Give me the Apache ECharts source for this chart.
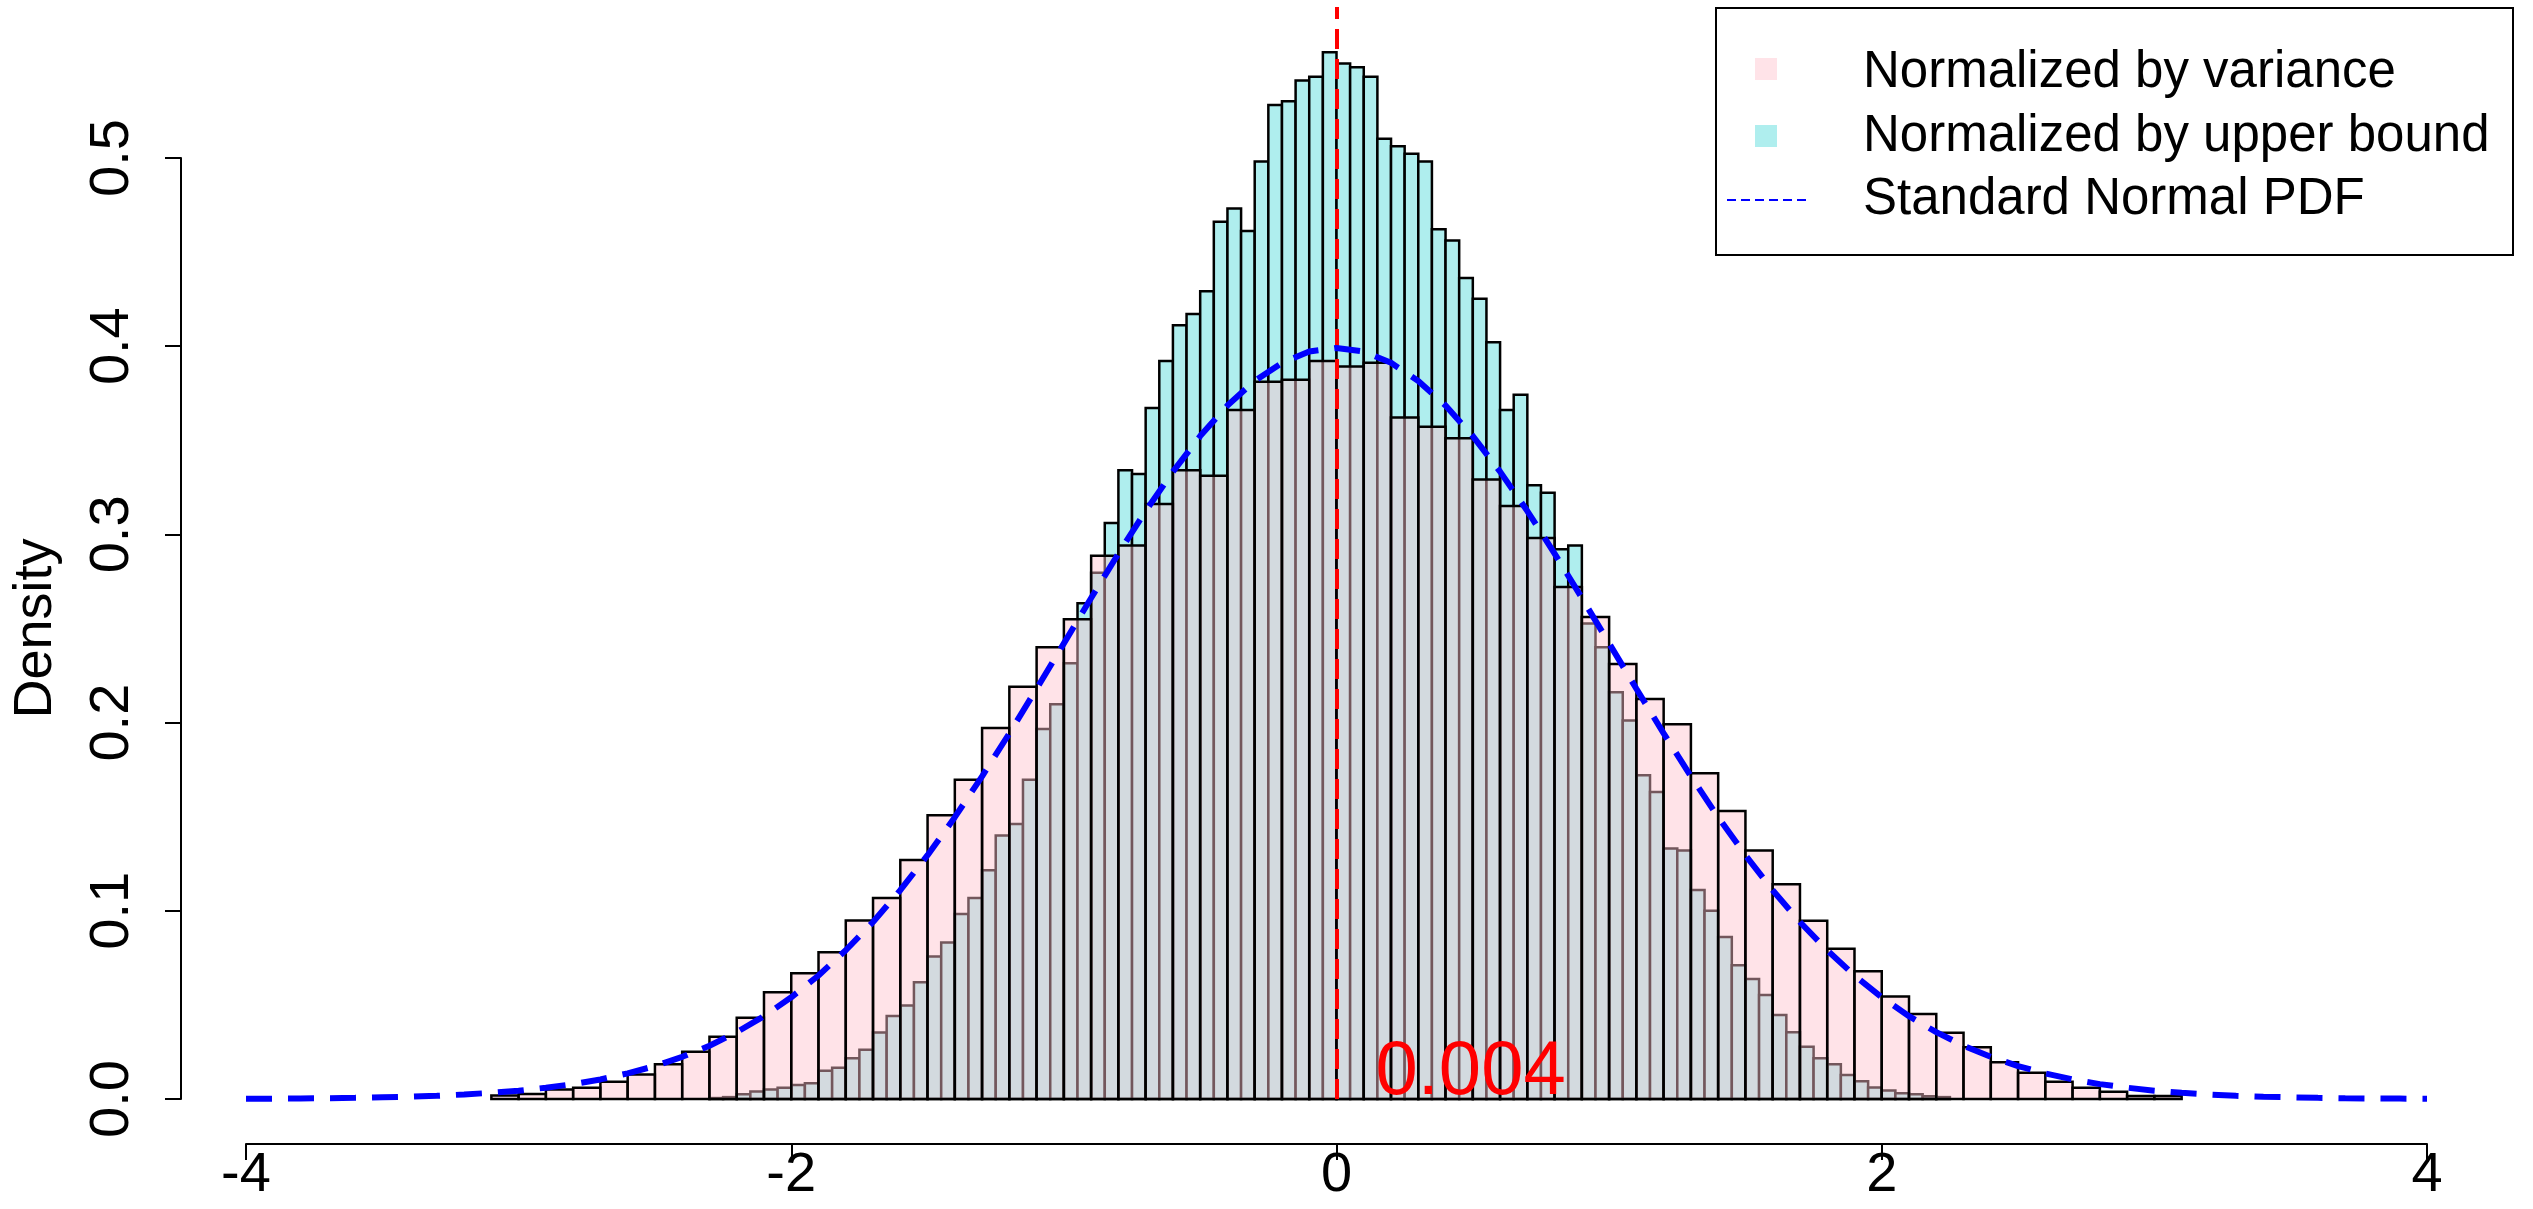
<!DOCTYPE html>
<html><head><meta charset="utf-8">
<script src="https://cdn.jsdelivr.net/npm/echarts@6/dist/echarts.min.js"></script>
<style>html,body{margin:0;padding:0;background:#fff}#c{width:2533px;height:1209px}</style>
</head><body><div id="c"></div>
<script>
// Histogram "Normalized by variance": bins of width 0.1 starting at -3.1
const varianceStart = -3.1;
const varianceWidth = 0.1;
const varianceDensity = [0.0018,0.0027,0.005,0.006,0.0092,0.013,0.0184,0.0251,0.0331,0.0432,
 0.0567,0.0668,0.078,0.0948,0.1067,0.127,0.1507,0.1696,0.197,0.219,
 0.240,0.2548,0.2886,0.294,0.316,0.334,0.331,0.366,0.381,0.382,
 0.392,0.389,0.391,0.362,0.357,0.351,0.329,0.315,0.298,0.272,
 0.256,0.231,0.2125,0.199,0.173,0.153,0.132,0.114,0.0947,0.0798,
 0.0678,0.0545,0.0452,0.0352,0.0275,0.0195,0.014,0.0092,0.006,0.0039,
 0.0016,0.0016];
// Histogram "Normalized by upper bound": bins of width 0.05 starting at -2.30
const upperStart = -2.30;
const upperWidth = 0.05;
const upperDensity = [0.0005,0.001,0.0025,0.004,0.005,0.006,0.0074,0.0083,0.015,0.0166,
 0.0216,0.0262,0.0353,0.0441,0.0496,0.062,0.0757,0.0831,0.0982,0.1067,
 0.1215,0.140,0.146,0.1696,0.1965,0.2097,0.2314,0.2633,0.2795,0.306,
 0.334,0.332,0.367,0.392,0.411,0.417,0.429,0.466,0.473,0.461,
 0.498,0.528,0.530,0.541,0.543,0.556,0.550,0.548,0.543,0.510,
 0.506,0.502,0.498,0.462,0.456,0.436,0.425,0.402,0.366,0.374,
 0.326,0.322,0.292,0.294,0.2525,0.240,0.216,0.201,0.172,0.163,
 0.133,0.132,0.111,0.100,0.086,0.071,0.0637,0.0553,0.0446,0.0354,
 0.0277,0.0217,0.0185,0.0128,0.0094,0.0061,0.0045,0.003,0.0025,0.0015,0.001];
// Standard normal PDF sampled at x = -4.0, -3.9, ..., 4.0
const pdfStart = -4.0;
const pdfStep = 0.1;
const pdfValues = [0.0001,0.0002,0.0003,0.0004,0.0006,0.0009,0.0012,0.0017,0.0024,0.0033,
 0.0044,0.0060,0.0079,0.0104,0.0136,0.0175,0.0224,0.0283,0.0355,0.0440,
 0.0540,0.0656,0.0790,0.0940,0.1109,0.1295,0.1497,0.1714,0.1942,0.2179,
 0.2420,0.2661,0.2897,0.3123,0.3332,0.3521,0.3683,0.3814,0.3910,0.3970,
 0.3989,
 0.3970,0.3910,0.3814,0.3683,0.3521,0.3332,0.3123,0.2897,0.2661,0.2420,
 0.2179,0.1942,0.1714,0.1497,0.1295,0.1109,0.0940,0.0790,0.0656,0.0540,
 0.0440,0.0355,0.0283,0.0224,0.0175,0.0136,0.0104,0.0079,0.0060,0.0044,
 0.0033,0.0024,0.0017,0.0012,0.0009,0.0006,0.0004,0.0003,0.0002,0.0001];
const xTicks = [-4,-2,0,2,4];
const yTicks = [0,0.1,0.2,0.3,0.4,0.5];
const meanValue = 0;
const meanLabel = '0.004';
const legendNames = ['Normalized by variance','Normalized by upper bound','Standard Normal PDF'];

const FONT = 'Liberation Sans, Arial, sans-serif';
const histData = (start, w, arr) => arr.map((v, i) => [+(start + i * w).toFixed(3), v, w]);
function barRender(fill) {
  return function (params, api) {
    const x0 = api.value(0), y = api.value(1), w = api.value(2);
    const p0 = api.coord([x0, y]);
    const p1 = api.coord([x0 + w, 0]);
    return { type: 'rect', shape: { x: p0[0], y: p0[1], width: p1[0] - p0[0], height: p1[1] - p0[1] },
      style: { fill: fill, stroke: '#000', lineWidth: 2.5 } };
  };
}
const pdfData = pdfValues.map((v, i) => [+(pdfStart + i * pdfStep).toFixed(2), v]);

const chart = echarts.init(document.getElementById('c'));
chart.setOption({
  backgroundColor: '#fff',
  animation: false,
  grid: [
    { left: 246, right: 106, top: 7, bottom: 110 },
    { left: 246, right: 106, top: 1135, bottom: 65 },
    { left: 181, width: 10, top: 158, bottom: 110 }
  ],
  xAxis: [
    { gridIndex: 0, type: 'value', min: -4, max: 4, show: false },
    { gridIndex: 1, type: 'value', min: -4, max: 4, interval: 2, position: 'bottom',
      axisLine: { show: true, onZero: false, lineStyle: { color: '#000', width: 2 } },
      axisTick: { show: true, inside: false, length: 16, lineStyle: { color: '#000', width: 2 } },
      splitLine: { show: false },
      axisLabel: { show: true, margin: 4, fontSize: 56, color: '#000', fontFamily: FONT,
        formatter: v => xTicks.includes(v) ? String(v) : '' } },
    { gridIndex: 2, type: 'value', show: false }
  ],
  yAxis: [
    { gridIndex: 0, type: 'value', min: 0, max: 0.58, show: false },
    { gridIndex: 1, type: 'value', show: false },
    { gridIndex: 2, type: 'value', min: 0, max: 0.5, interval: 0.1, position: 'left',
      axisLine: { show: true, lineStyle: { color: '#000', width: 2 } },
      axisTick: { show: true, length: 16, lineStyle: { color: '#000', width: 2 } },
      splitLine: { show: false },
      axisLabel: { fontSize: 56, color: '#000', fontFamily: FONT, rotate: 90, margin: 40,
        formatter: v => yTicks.some(t => Math.abs(t - v) < 1e-9) ? v.toFixed(1) : '' },
      name: 'Density', nameLocation: 'middle', nameGap: 118, nameRotate: 90,
      nameTextStyle: { fontSize: 54, color: '#000', fontFamily: FONT } }
  ],
  series: [
    { name: legendNames[1], type: 'custom', xAxisIndex: 0, yAxisIndex: 0,
      renderItem: barRender('#AFEEEE'), data: histData(upperStart, upperWidth, upperDensity), z: 2 },
    { name: legendNames[0], type: 'custom', xAxisIndex: 0, yAxisIndex: 0,
      renderItem: barRender('rgba(255,192,203,0.45)'), data: histData(varianceStart, varianceWidth, varianceDensity), z: 3 },
    { name: legendNames[2], type: 'line', xAxisIndex: 0, yAxisIndex: 0, data: pdfData, showSymbol: false,
      lineStyle: { color: '#0000ff', width: 6, type: [26, 16] }, z: 5,
      markLine: { silent: true, symbol: 'none', label: { show: false },
        lineStyle: { color: '#ff0000', width: 4, type: [20, 10] },
        data: [{ xAxis: meanValue }] } }
  ]
});

const lp = chart.convertToPixel({ xAxisIndex: 0, yAxisIndex: 0 }, [0.143, 0]);
chart.setOption({
  graphic: [
    { type: 'text', left: lp[0], top: lp[1] - 64, z: 10,
      style: { text: meanLabel, fill: '#ff0000', fontSize: 76, fontFamily: FONT } },
    { type: 'rect', shape: { x: 1716, y: 8, width: 797, height: 247 }, z: 10,
      style: { fill: '#fff', stroke: '#000', lineWidth: 2 } },
    { type: 'rect', shape: { x: 1755, y: 58, width: 22, height: 22 }, z: 11, style: { fill: 'rgba(255,192,203,0.45)' } },
    { type: 'rect', shape: { x: 1755, y: 125, width: 22, height: 22 }, z: 11, style: { fill: '#AFEEEE' } },
    { type: 'line', shape: { x1: 1727, y1: 200, x2: 1806, y2: 200 }, z: 11,
      style: { stroke: '#0000ff', lineWidth: 2, lineDash: [9, 5] } },
    { type: 'text', x: 1863, y: 73, z: 11, style: { text: legendNames[0], fontSize: 51, fill: '#000', fontFamily: FONT, verticalAlign: 'middle' } },
    { type: 'text', x: 1863, y: 137, z: 11, style: { text: legendNames[1], fontSize: 51, fill: '#000', fontFamily: FONT, verticalAlign: 'middle' } },
    { type: 'text', x: 1863, y: 200, z: 11, style: { text: legendNames[2], fontSize: 51, fill: '#000', fontFamily: FONT, verticalAlign: 'middle' } }
  ]
});
</script></body></html>
